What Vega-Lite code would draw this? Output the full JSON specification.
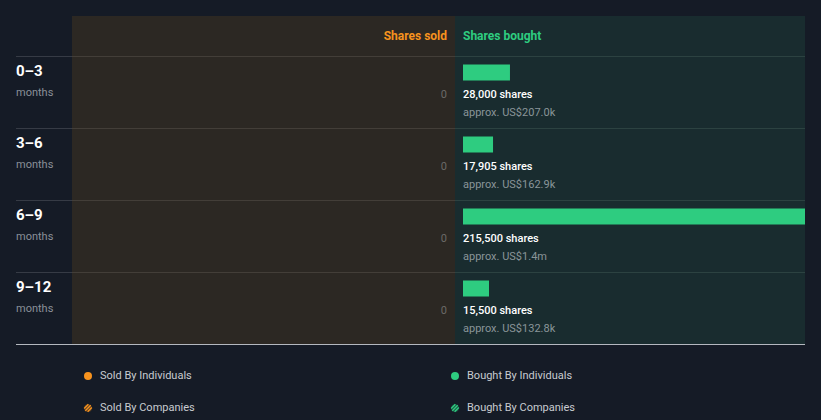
{
  "$schema": "https://vega.github.io/schema/vega-lite/v6.json",
  "background": "#151b26",
  "padding": {"left": 15, "top": 16, "right": 15, "bottom": 0},
  "spacing": 0,
  "config": {"view": {"stroke": null}, "font": "Roboto", "concat": {"spacing": 0}},
  "datasets": {
    "rows": [
      {"period": "0–3", "sold": 0, "bought": 28000, "shares": "28,000 shares", "value": "approx. US$207.0k"},
      {"period": "3–6", "sold": 0, "bought": 17905, "shares": "17,905 shares", "value": "approx. US$162.9k"},
      {"period": "6–9", "sold": 0, "bought": 215500, "shares": "215,500 shares", "value": "approx. US$1.4m"},
      {"period": "9–12", "sold": 0, "bought": 15500, "shares": "15,500 shares", "value": "approx. US$132.8k"}
    ],
    "legend": [
      {"side": "Sold", "kind": "Individuals", "label": "Sold By Individuals"},
      {"side": "Bought", "kind": "Individuals", "label": "Bought By Individuals"},
      {"side": "Sold", "kind": "Companies", "label": "Sold By Companies"},
      {"side": "Bought", "kind": "Companies", "label": "Bought By Companies"}
    ]
  },
  "vconcat": [
    {
      "spacing": 0,
      "bounds": "flush",
      "hconcat": [
        {
          "width": 56,
          "height": 328,
          "data": {"name": "rows"},
          "encoding": {
            "y": {"field": "period", "type": "ordinal", "axis": null,
                  "scale": {"type": "band", "domain": ["0–3", "3–6", "6–9", "9–12"], "range": [40.5, 328.5], "paddingInner": 0, "paddingOuter": 0}}
          },
          "layer": [
            {"mark": {"type": "rule", "color": "#363b45", "strokeWidth": 1},
             "encoding": {"y": {"field": "period", "type": "ordinal", "bandPosition": 0}}},
            {"transform": [{"filter": "datum.period === '9–12'"}],
             "mark": {"type": "rule", "color": "#b4b8bf", "strokeWidth": 1},
             "encoding": {"y": {"field": "period", "type": "ordinal", "bandPosition": 1}}},
            {"mark": {"type": "text", "align": "left", "baseline": "middle", "dy": -22, "fontSize": 15, "fontWeight": "bold", "color": "#ffffff"},
             "encoding": {"x": {"datum": 0, "type": "quantitative", "scale": {"domain": [0, 1]}, "axis": null}, "text": {"field": "period"}}},
            {"mark": {"type": "text", "align": "left", "baseline": "middle", "dy": 0, "fontSize": 11, "color": "#8a9099", "text": "months"},
             "encoding": {"x": {"datum": 0, "type": "quantitative", "scale": {"domain": [0, 1]}, "axis": null}}}
          ]
        },
        {
          "width": 383,
          "height": 328,
          "view": {"fill": "#2c2823", "stroke": null},
          "data": {"name": "rows"},
          "encoding": {
            "y": {"field": "period", "type": "ordinal", "axis": null,
                  "scale": {"type": "band", "domain": ["0–3", "3–6", "6–9", "9–12"], "range": [40.5, 328.5], "paddingInner": 0, "paddingOuter": 0}}
          },
          "layer": [
            {"mark": {"type": "rule", "color": "#433e38", "strokeWidth": 1},
             "encoding": {"y": {"field": "period", "type": "ordinal", "bandPosition": 0}}},
            {"transform": [{"filter": "datum.period === '9–12'"}],
             "mark": {"type": "rule", "color": "#b4b8bf", "strokeWidth": 1},
             "encoding": {"y": {"field": "period", "type": "ordinal", "bandPosition": 1}}},
            {"mark": {"type": "text", "align": "right", "baseline": "middle", "dy": 2, "fontSize": 11, "color": "#6b6a68"},
             "encoding": {"x": {"field": "sold", "type": "quantitative", "axis": null, "scale": {"domain": [0, 203900], "range": [375, 33], "nice": false}},
                          "text": {"field": "sold", "type": "quantitative"}}},
            {"transform": [{"filter": "datum.period === '0–3'"}],
             "mark": {"type": "text", "align": "right", "baseline": "middle", "dy": -57, "fontSize": 12, "fontWeight": "bold", "color": "#f7931e", "text": "Shares sold"},
             "encoding": {"x": {"field": "sold", "type": "quantitative"}}}
          ]
        },
        {
          "width": 350,
          "height": 328,
          "view": {"fill": "#192c2f", "stroke": null},
          "data": {"name": "rows"},
          "encoding": {
            "y": {"field": "period", "type": "ordinal", "axis": null,
                  "scale": {"type": "band", "domain": ["0–3", "3–6", "6–9", "9–12"], "range": [40.5, 328.5], "paddingInner": 0, "paddingOuter": 0}}
          },
          "layer": [
            {"mark": {"type": "rule", "color": "#2c4241", "strokeWidth": 1},
             "encoding": {"y": {"field": "period", "type": "ordinal", "bandPosition": 0}}},
            {"transform": [{"filter": "datum.period === '9–12'"}],
             "mark": {"type": "rule", "color": "#b4b8bf", "strokeWidth": 1},
             "encoding": {"y": {"field": "period", "type": "ordinal", "bandPosition": 1}}},
            {"mark": {"type": "bar", "height": 16, "yOffset": -20, "color": "#2ecc80", "clip": true},
             "encoding": {"x": {"field": "bought", "type": "quantitative", "axis": null, "scale": {"domain": [0, 203900], "range": [8, 350], "nice": false, "zero": true}}}},
            {"mark": {"type": "text", "align": "left", "baseline": "middle", "dy": 2, "fontSize": 11, "fontWeight": 500, "color": "#ffffff"},
             "encoding": {"x": {"datum": 0, "type": "quantitative"}, "text": {"field": "shares"}}},
            {"mark": {"type": "text", "align": "left", "baseline": "middle", "dy": 20, "fontSize": 11, "color": "#8a9599"},
             "encoding": {"x": {"datum": 0, "type": "quantitative"}, "text": {"field": "value"}}},
            {"transform": [{"filter": "datum.period === '0–3'"}],
             "mark": {"type": "text", "align": "left", "baseline": "middle", "dy": -57, "fontSize": 12, "fontWeight": "bold", "color": "#2ecc80", "text": "Shares bought"},
             "encoding": {"x": {"datum": 0, "type": "quantitative"}}}
          ]
        }
      ]
    },
    {
      "width": 789,
      "height": 76,
      "data": {"name": "legend"},
      "encoding": {
        "x": {"field": "side", "type": "nominal", "axis": null, "scale": {"type": "point", "domain": ["Sold", "Bought"], "range": [72, 439], "padding": 0}},
        "y": {"field": "kind", "type": "nominal", "axis": null, "scale": {"type": "point", "domain": ["Individuals", "Companies"], "range": [31, 63], "padding": 0}},
        "color": {"field": "side", "type": "nominal", "legend": null, "scale": {"domain": ["Sold", "Bought"], "range": ["#f7931e", "#2ecc80"]}}
      },
      "layer": [
        {"transform": [{"filter": "datum.kind === 'Individuals'"}],
         "mark": {"type": "point", "shape": "circle", "filled": true, "size": 64, "opacity": 1}},
        {"transform": [{"filter": "datum.kind === 'Companies'"}],
         "mark": {"type": "point", "shape": "circle", "filled": true, "size": 60, "opacity": 0.3}},
        {"transform": [{"filter": "datum.kind === 'Companies'"}],
         "mark": {"type": "point", "shape": "M-0.7,0.7L0.7,-0.7M-0.1,0.99L0.99,-0.1M-0.99,0.1L0.1,-0.99", "filled": false, "size": 60, "strokeWidth": 1.4, "opacity": 1}},
        {"mark": {"type": "text", "align": "left", "baseline": "middle", "dx": 12, "fontSize": 11, "color": "#c8cbd0"},
         "encoding": {"text": {"field": "label"}, "color": {"value": "#c8cbd0"}}}
      ]
    }
  ]
}
